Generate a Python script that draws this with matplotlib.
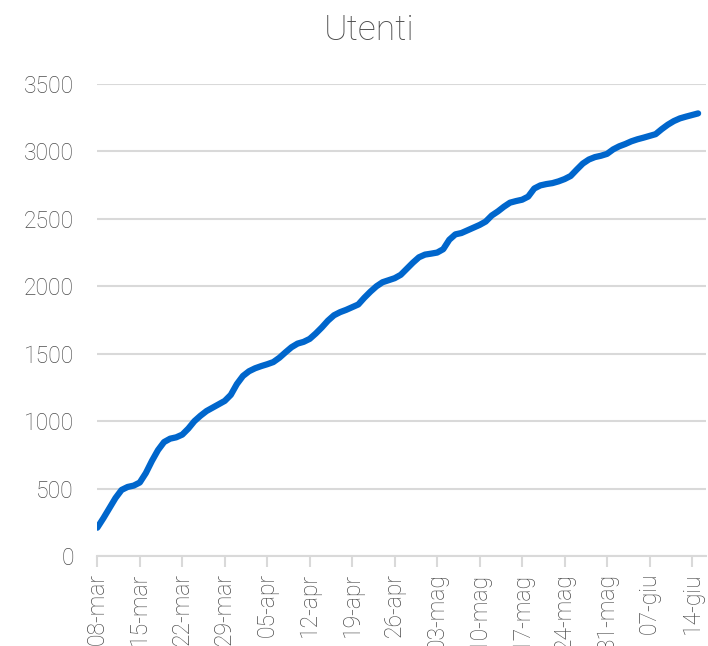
import matplotlib
matplotlib.use("Agg")
import matplotlib.pyplot as plt

title = "Utenti"
tick_labels = ["08-mar", "15-mar", "22-mar", "29-mar", "05-apr", "12-apr", "19-apr",
               "26-apr", "03-mag", "10-mag", "17-mag", "24-mag", "31-mag", "07-giu", "14-giu"]
# daily values from 08-mar to 15-giu
utenti = [210, 280, 355, 430, 490, 512, 522, 545, 615, 705,
          785, 845, 870, 880, 900, 945, 1000, 1040, 1075, 1100,
          1125, 1150, 1195, 1275, 1335, 1370, 1392, 1408, 1422, 1438,
          1470, 1510, 1548, 1575, 1588, 1610, 1650, 1695, 1745, 1785,
          1808, 1825, 1845, 1865, 1915, 1960, 2000, 2030, 2045, 2060,
          2085, 2130, 2175, 2215, 2235, 2242, 2250, 2275, 2345, 2385,
          2395, 2415, 2435, 2455, 2480, 2525, 2555, 2590, 2620, 2632,
          2642, 2665, 2725, 2748, 2758, 2765, 2778, 2795, 2818, 2865,
          2910, 2940, 2958, 2968, 2982, 3015, 3038, 3055, 3075, 3090,
          3102, 3115, 3128, 3165, 3198, 3225, 3245, 3258, 3270, 3282]
y_ticks = [0, 500, 1000, 1500, 2000, 2500, 3000, 3500]

plt.rcParams['font.family'] = ['Roboto', 'Liberation Sans', 'DejaVu Sans']
plt.rcParams['font.weight'] = 'light'
text_color = "#4d4d4d"
grid_color = "#d9d9d9"

fig = plt.figure(figsize=(7.08, 6.46), dpi=100)
ax = fig.add_axes([97.3 / 708, 90 / 646, 608.7 / 708, 472 / 646])

days = list(range(len(utenti)))
ax.plot(days, utenti, color="#0066cc", linewidth=4.5, solid_capstyle="round",
        solid_joinstyle="round", zorder=3)

ax.set_ylim(0, 3500)
ax.set_xlim(0, 100.3)
ax.set_yticks(y_ticks)
ax.set_yticklabels([str(v) for v in y_ticks])
ax.set_xticks([7 * i for i in range(len(tick_labels))])
ax.set_xticklabels(tick_labels, rotation=90)

ax.grid(axis="y", color=grid_color, linewidth=1.5, zorder=0)
ax.set_axisbelow(True)
for s in ["top", "right", "left"]:
    ax.spines[s].set_visible(False)
ax.spines["bottom"].set_color(grid_color)
ax.spines["bottom"].set_linewidth(1.5)

ax.tick_params(axis="y", length=0, pad=17, labelsize=16.5, labelcolor=text_color)
ax.tick_params(axis="x", length=8, width=1.5, color=grid_color, pad=4,
               labelsize=16.5, labelcolor=text_color)

fig.text(369 / 708, 1 - 30 / 646, title, ha="center", va="center",
         fontsize=25.5, color=text_color, fontweight='light')

fig.savefig("out.png", dpi=100)
